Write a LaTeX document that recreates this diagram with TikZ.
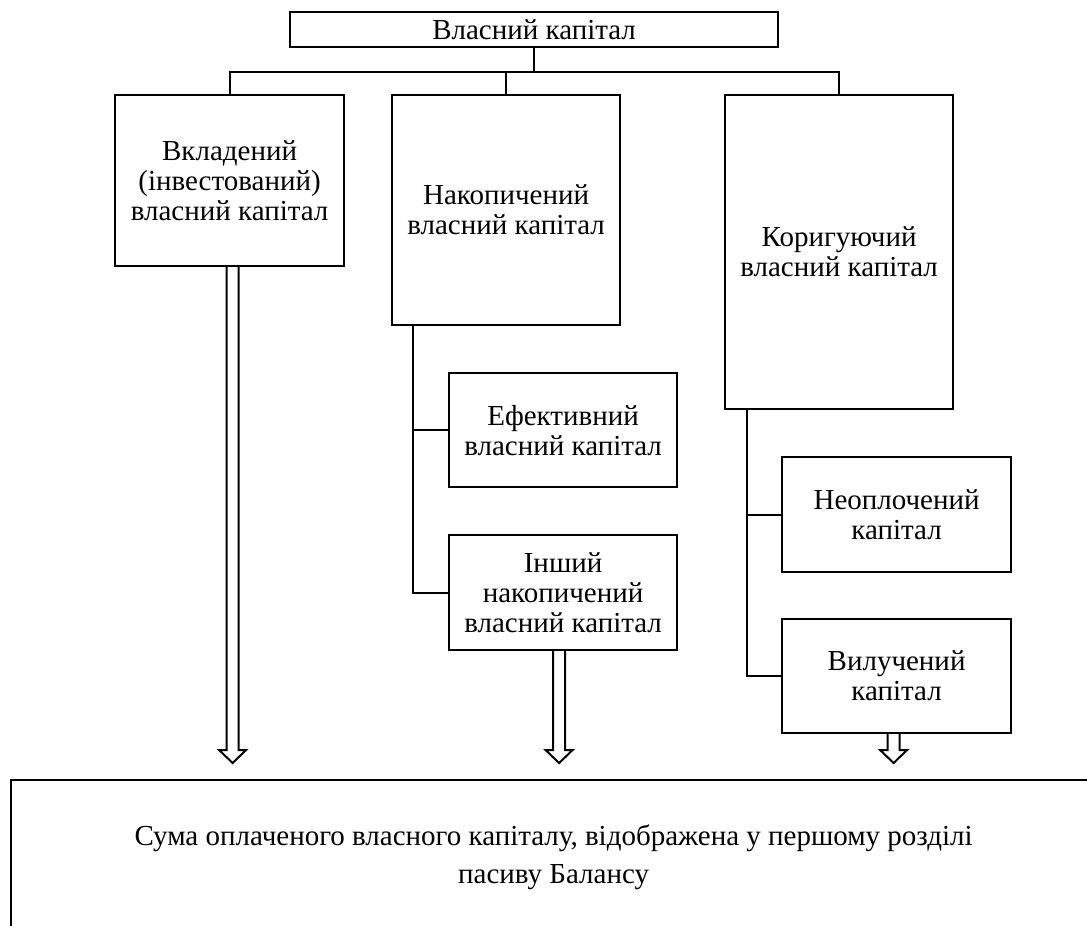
\documentclass[tikz,border=0pt]{standalone}
\usepackage{fontspec}
\setmainfont{Liberation Serif}
\usetikzlibrary{calc}

% hollow block arrow from the bottom of one box down to another box
\newcommand{\hollowarrow}[3][0]{%
  \path (#2.south |- #3.north) ++(#1,-16) coordinate (tip);
  \path (#2.south) ++(#1,0) coordinate (root);
  \draw[arrowline] ($(root)+(-6,0)$) -- ($(tip)+(-6,-13)$) -- ($(tip)+(-13.5,-13)$) -- (tip)
        -- ($(tip)+(13.5,-13)$) -- ($(tip)+(6,-13)$) -- ($(root)+(6,0)$);
}

\begin{document}
\begin{tikzpicture}[x=0.5pt,y=-0.5pt,
    box/.style={draw,line width=1.1pt,inner sep=0pt,align=center,anchor=north west,
                font=\fontsize{14.5}{15}\selectfont},
    wire/.style={line width=1.1pt},
    arrowline/.style={line width=1pt,line join=miter}]
    \clip (0,0) rectangle (1087,926);

        \node[box,minimum width=244pt,minimum height=17.5pt] (vk) at (289,11) {Власний капітал};

        \node[box,minimum width=114.5pt,minimum height=85.5pt] (vkl) at (114,94) {Вкладений\\(інвестований)\\власний капітал};
        \node[box,minimum width=114pt,minimum height=115pt] (nak) at (391,94) {Накопичений\\власний капітал};
        \node[box,minimum width=114pt,minimum height=157pt] (kor) at (724,94) {Коригуючий\\власний капітал};

        \node[box,minimum width=114pt,minimum height=57pt] (efk) at (448,372) {Ефективний\\власний капітал};
        \node[box,minimum width=114pt,minimum height=57.5pt] (insh) at (448,534) {Інший\\накопичений\\власний капітал};

        \node[box,minimum width=114.5pt,minimum height=57.5pt] (neop) at (781,456) {Неоплочений\\капітал};
        \node[box,minimum width=114.5pt,minimum height=57pt] (vyl) at (781,618) {Вилучений\\капітал};

        \node[box,minimum width=542.5pt,minimum height=77pt,font=\fontsize{14.5}{19}\selectfont] (suma) at (10,779)
            {Сума оплаченого власного капіталу, відображена у першому розділі\\пасиву Балансу};

        % tree from the top box
        \coordinate (bus) at ($(vk.south)+(0,24)$);
        \draw[wire] (vk.south) -- (bus);
        \draw[wire] (vkl.north) |- (bus) -| (kor.north);
        \draw[wire] (bus -| nak.north) -- (nak.north);

        % side branches
        \coordinate (nstem) at ($(nak.south west)+(22,0)$);
        \draw[wire] (nstem) |- (efk.west);
        \draw[wire] (nstem) |- (insh.west);
        \coordinate (kstem) at ($(kor.south west)+(23,0)$);
        \draw[wire] (kstem) |- (neop.west);
        \draw[wire] (kstem) |- (vyl.west);

        \hollowarrow[3]{vkl}{suma}
        \hollowarrow[-4]{insh}{suma}
        \hollowarrow[-3]{vyl}{suma}
\end{tikzpicture}
\end{document}
